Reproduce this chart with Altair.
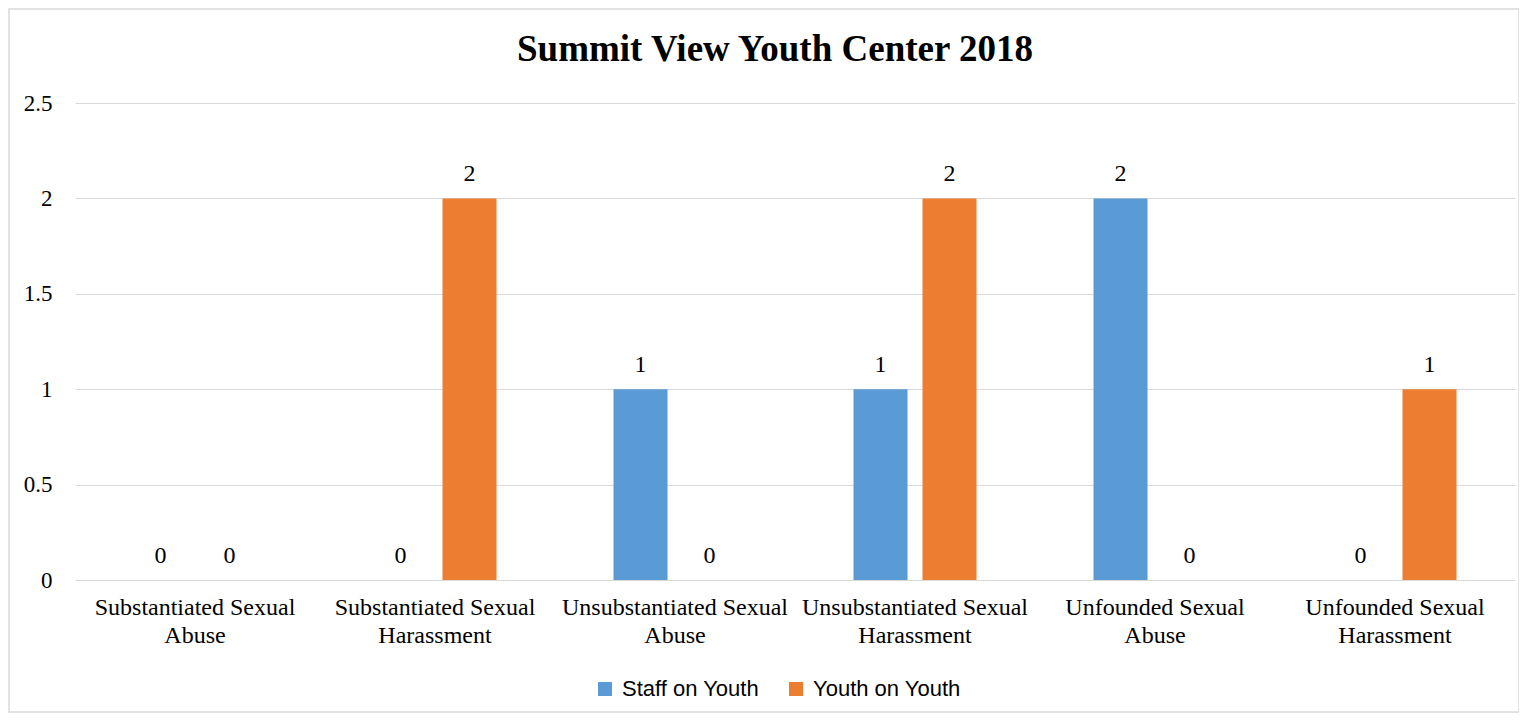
import altair as alt
import pandas as pd

categories = [
    "Substantiated Sexual Abuse",
    "Substantiated Sexual Harassment",
    "Unsubstantiated Sexual Abuse",
    "Unsubstantiated Sexual Harassment",
    "Unfounded Sexual Abuse",
    "Unfounded Sexual Harassment",
]
series = ["Staff on Youth", "Youth on Youth"]
staff_on_youth = [0, 0, 1, 1, 2, 0]
youth_on_youth = [0, 2, 0, 2, 0, 1]
colors = ["#5B9BD5", "#ED7D31"]
y_ticks = [0, 0.5, 1, 1.5, 2, 2.5]

rows = []
for c, s, y in zip(categories, staff_on_youth, youth_on_youth):
    rows.append({"category": c, "series": series[0], "value": s})
    rows.append({"category": c, "series": series[1], "value": y})
df = pd.DataFrame(rows)

serif = "Liberation Serif"

x_enc = alt.X(
    "category:N",
    sort=categories,
    scale=alt.Scale(paddingInner=0, paddingOuter=0),
    axis=alt.Axis(
        title=None,
        labelAngle=0,
        labelExpr="[slice(datum.label, 0, lastindexof(datum.label, ' ')), slice(datum.label, lastindexof(datum.label, ' ') + 1)]",
        labelFont=serif,
        labelFontSize=24,
        labelColor="#000000",
        labelLineHeight=28,
        labelPadding=15,
        labelLimit=0,
        domain=False,
        ticks=False,
    ),
)
xoff_enc = alt.XOffset(
    "series:N", sort=series, scale=alt.Scale(paddingInner=0.217, paddingOuter=0.848)
)
y_enc = alt.Y(
    "value:Q",
    scale=alt.Scale(domain=[0, 2.5], nice=False),
    axis=alt.Axis(
        title=None,
        values=y_ticks,
        format="~g",
        grid=True,
        gridColor="#d9d9d9",
        gridWidth=1.2,
        domain=False,
        ticks=False,
        labelPadding=23,
        labelFont=serif,
        labelFontSize=23,
        labelColor="#000000",
    ),
)

base = alt.Chart(df)

bars = base.mark_bar().encode(
    x=x_enc,
    xOffset=xoff_enc,
    y=y_enc,
    color=alt.Color(
        "series:N",
        sort=series,
        scale=alt.Scale(domain=series, range=colors),
        legend=alt.Legend(
            title=None,
            orient="none",
            legendX=519,
            legendY=575,
            direction="horizontal",
            symbolType="square",
            symbolSize=196,
            symbolStrokeWidth=0,
            labelFont="Liberation Sans",
            labelFontSize=22,
            labelColor="#000000",
            labelOffset=6,
            columnPadding=25,
        ),
    ),
)

labels = base.mark_text(
    baseline="alphabetic", dy=-17, font=serif, fontSize=24, color="#000000"
).encode(
    x=alt.X("category:N", sort=categories),
    xOffset=alt.XOffset("series:N", sort=series),
    y=alt.Y("value:Q"),
    text=alt.Text("value:Q", format="~g"),
)

border = alt.Chart(pd.DataFrame({"a": [0]})).mark_rect(
    fillOpacity=0, stroke="#d9d9d9", strokeWidth=1.5
).encode(
    x=alt.value(-66), x2=alt.value(1444), y=alt.value(-94), y2=alt.value(609)
)

chart = (
    alt.layer(border, bars, labels)
    .properties(
        width=1440,
        height=477,
        autosize=alt.AutoSizeParams(type="none"),
        padding={"left": 67, "top": 95, "right": 4, "bottom": 134},
        background="white",
        title=alt.TitleParams(
            "Summit View Youth Center 2018",
            font=serif,
            fontSize=37,
            fontWeight="bold",
            color="#000000",
            anchor="middle",
            dx=-20,
            dy=61,
            offset=0,
        ),
    )
    .configure_view(stroke=None)
)

chart.save("out.html", embed_options={"renderer": "svg", "actions": False})
